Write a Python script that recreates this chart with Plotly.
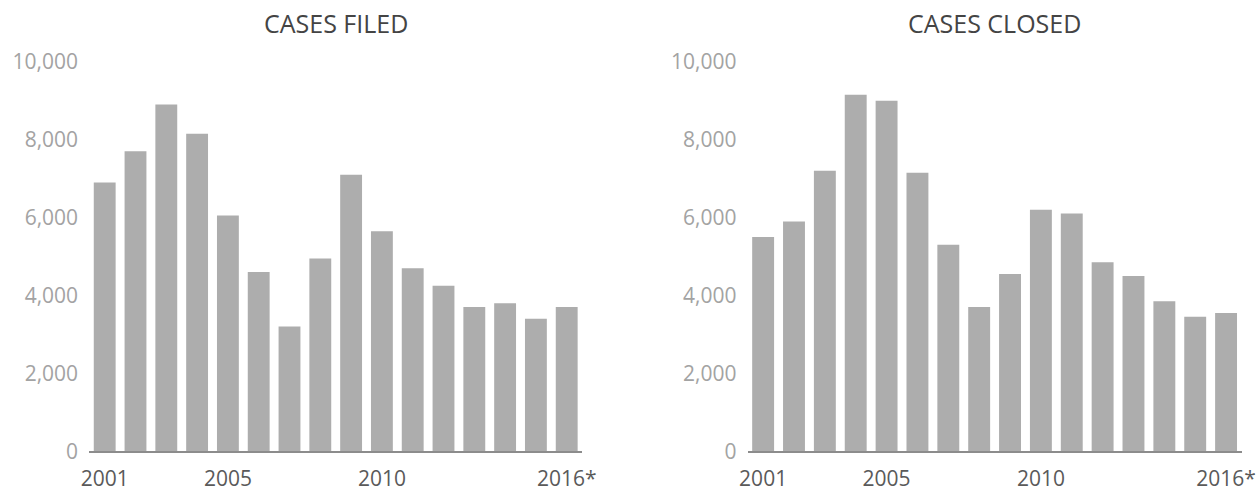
import plotly.graph_objects as go

years = [str(y) for y in range(2001, 2017)]
cases_filed = [6900, 7700, 8900, 8150, 6050, 4600, 3200, 4950, 7100, 5650, 4700, 4250, 3700, 3800, 3400, 3700]
cases_closed = [5500, 5900, 7200, 9150, 9000, 7150, 5300, 3700, 4550, 6200, 6100, 4850, 4500, 3850, 3450, 3550]
x_tickvals = ["2001", "2005", "2010", "2016"]
x_ticktext = ["2001", "2005", "2010", "2016*"]
y_tickvals = [0, 2000, 4000, 6000, 8000, 10000]
titles = ["CASES FILED", "CASES CLOSED"]

W, H = 1256, 498
BAR = "#adadad"
FONT = "Open Sans"

# the captured picture shows the page slightly inset/scaled; map target pixels back
OX, SX = 8.0, 1237.0 / 1256.0
OY, SY = 14.0, 473.0 / 498.0

def fx(p):
    return min(max((p - OX) / SX / W, 0.0), 1.0)

def fy(p):
    return min(max(1 - (p - OY) / SY / H, 0.0), 1.0)

fig = go.Figure()
fig.add_trace(go.Bar(x=years, y=cases_filed, marker=dict(color=BAR, line=dict(width=0)),
                     xaxis="x", yaxis="y", showlegend=False))
fig.add_trace(go.Bar(x=years, y=cases_closed, marker=dict(color=BAR, line=dict(width=0)),
                     xaxis="x2", yaxis="y2", showlegend=False))

xdoms = [(fx(89.5), fx(583.5)), (fx(749.5), fx(1244.5))]
ydom = (fy(453), fy(61))

common_x = dict(type="category", tickmode="array", tickvals=x_tickvals, ticktext=x_ticktext,
                showline=True, linecolor="#8c8c8c", linewidth=1.5, showgrid=False, zeroline=False,
                ticks="outside", ticklen=8, tickcolor="rgba(0,0,0,0)",
                tickfont=dict(family=FONT, size=21, color="#5a5a5a"), range=[-0.5, 15.5])
common_y = dict(range=[0, 10000], tickvals=y_tickvals, tickformat=",d", showgrid=False,
                zeroline=False, showline=False, ticks="outside", ticklen=6,
                tickcolor="rgba(0,0,0,0)", tickfont=dict(family=FONT, size=21, color="#a3a3a3"))

fig.update_layout(
    width=W, height=H, margin=dict(l=0, r=0, t=0, b=0),
    paper_bgcolor="white", plot_bgcolor="white", bargap=0.29,
    xaxis=dict(domain=xdoms[0], anchor="y", **common_x),
    xaxis2=dict(domain=xdoms[1], anchor="y2", **common_x),
    yaxis=dict(domain=ydom, anchor="x", **common_y),
    yaxis2=dict(domain=ydom, anchor="x2", **common_y),
)

for i, t in enumerate(titles):
    d = xdoms[i]
    fig.add_annotation(text=t, x=(d[0] + d[1]) / 2, y=fy(22), xref="paper", yref="paper",
                       showarrow=False, xanchor="center", yanchor="middle",
                       font=dict(family=FONT, size=25, color="#444444"))

fig.write_html("out.html")
